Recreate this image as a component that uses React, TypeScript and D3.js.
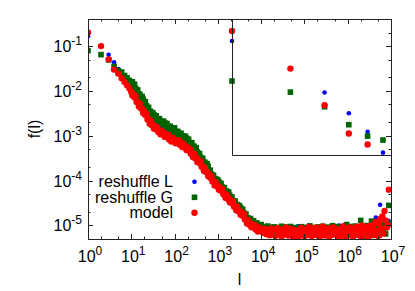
import React from 'react'
import * as d3 from 'd3'

// l values used by reshuffle L (coarser sampling)
const lCoarse = [
  1, 2, 3, 4, 5, 6, 7, 8, 9, 10,
  11, 13, 14, 16, 18, 20, 22, 25, 28, 32, 35, 40, 45, 50, 56, 63, 71, 79, 89, 100,
  112, 126, 141, 158, 178, 200, 224, 251, 282, 316, 355, 398, 447, 501, 562, 631, 708, 794, 891, 1000,
  1122, 1259, 1413, 1585, 1778, 1995, 2239, 2512, 2818, 3162, 3548, 3981, 4467, 5012, 5623, 6310, 7079, 7943, 8913, 10000,
  11220, 12590, 14130, 15850, 17780, 19950, 22390, 25120, 28180, 31620, 35480, 39810, 44670, 50120, 56230, 63100, 70790, 79430, 89130,
  1.0e5, 1.12e5, 1.26e5, 1.41e5, 1.58e5, 1.78e5, 2.0e5, 2.24e5, 2.51e5, 2.82e5, 3.16e5, 3.55e5, 3.98e5, 4.47e5, 5.01e5, 5.62e5, 6.31e5, 7.08e5, 7.94e5, 8.91e5,
  1.0e6, 1.12e6, 1.26e6, 1.41e6, 1.58e6, 1.78e6, 2.0e6, 2.24e6, 2.51e6, 2.82e6, 3.16e6, 3.55e6, 3.98e6, 4.47e6, 5.01e6, 5.62e6, 6.31e6, 7.08e6, 7.94e6, 8.91e6,
]

// l values used by reshuffle G and the model (finer sampling)
const lFine = [
  1, 2, 3, 4, 5, 6, 7, 8, 9, 10,
  10.6, 11.2, 11.9, 12.6, 13.3, 14.1, 15.0, 15.8, 16.8, 17.8, 18.8, 20.0, 21.1, 22.4, 23.7, 25.1, 26.6, 28.2, 29.9, 31.6,
  33.5, 35.5, 37.6, 39.8, 42.2, 44.7, 47.3, 50.1, 53.1, 56.2, 59.6, 63.1, 66.8, 70.8, 75.0, 79.4, 84.1, 89.1, 94.4, 100,
  106, 112, 119, 126, 133, 141, 150, 158, 168, 178, 188, 200, 211, 224, 237, 251, 266, 282, 299, 316,
  335, 355, 376, 398, 422, 447, 473, 501, 531, 562, 596, 631, 668, 708, 750, 794, 841, 891, 944, 1000,
  1059, 1122, 1189, 1259, 1334, 1413, 1496, 1585, 1679, 1778, 1884, 1995, 2113, 2239, 2371, 2512, 2661, 2818, 2985, 3162,
  3350, 3548, 3758, 3981, 4217, 4467, 4732, 5012, 5309, 5623, 5957, 6310, 6683, 7079, 7499, 7943, 8414, 8913, 9441, 10000,
  10590, 11220, 11890, 12590, 13340, 14130, 14960, 15850, 16790, 17780, 18840, 19950, 21130, 22390, 23710, 25120, 26610, 28180, 29850, 31620,
  33500, 35480, 37580, 39810, 42170, 44670, 47320, 50120, 53090, 56230, 59570, 63100, 66830, 70790, 74990, 79430, 84140, 89130, 94410, 1.0e5,
  1.059e5, 1.122e5, 1.189e5, 1.259e5, 1.334e5, 1.413e5, 1.496e5, 1.585e5, 1.679e5, 1.778e5, 1.884e5, 1.995e5, 2.113e5, 2.239e5, 2.371e5, 2.512e5, 2.661e5, 2.818e5, 2.985e5, 3.162e5,
  3.35e5, 3.548e5, 3.758e5, 3.981e5, 4.217e5, 4.467e5, 4.732e5, 5.012e5, 5.309e5, 5.623e5, 5.957e5, 6.31e5, 6.683e5, 7.079e5, 7.499e5, 7.943e5, 8.414e5, 8.913e5, 9.441e5, 1.0e6,
  1.059e6, 1.122e6, 1.189e6, 1.259e6, 1.334e6, 1.413e6, 1.496e6, 1.585e6, 1.679e6, 1.778e6, 1.884e6, 1.995e6, 2.113e6, 2.239e6, 2.371e6, 2.512e6, 2.661e6, 2.818e6, 2.985e6, 3.162e6,
  3.35e6, 3.548e6, 3.758e6, 3.981e6, 4.217e6, 4.467e6, 4.732e6, 5.012e6, 5.309e6, 5.623e6, 5.957e6, 6.31e6, 6.683e6, 7.079e6, 7.499e6, 7.943e6, 8.414e6, 8.913e6,
]

// reshuffle L (blue), on lCoarse
const fReshuffleL: (number | null)[] = [
  1.66e-1, null, 6.38e-2, 4.34e-2, 3.08e-2, 2.09e-2, 1.85e-2, 1.58e-2, 1.39e-2, 1.2e-2,
  1.0e-2, 9.2e-3, 7.0e-3, 6.5e-3, 4.9e-3, 4.5e-3, 3.4e-3, 3.2e-3, 2.45e-3, 2.3e-3,
  1.9e-3, 1.91e-3, 1.6e-3, 1.64e-3, 1.37e-3, 1.39e-3, 1.17e-3, 1.21e-3, 1.03e-3, 1.08e-3,
  8.8e-4, 9.2e-4, 7.9e-4, 8.1e-4, 6.6e-4, 6.7e-4, 5.4e-4, 5.3e-4, 4.3e-4, 4.1e-4,
  3.1e-4, 3.0e-4, 2.33e-4, 2.2e-4, 1.71e-4, 1.63e-4, 1.2e-4, 1.14e-4, 9.0e-5, 8.8e-5,
  7.0e-5, 6.8e-5, 5.4e-5, 5.25e-5, 4.2e-5, 4.0e-5, 3.2e-5, 3.1e-5, 2.45e-5, 2.4e-5,
  1.9e-5, 1.85e-5, 1.43e-5, 1.36e-5, 1.11e-5, 1.14e-5, 9.5e-6, 1.0e-5, 8.6e-6, 9.0e-6,
  7.2e-6, 8.3e-6, 6.6e-6, 7.9e-6, 8.8e-6, 6.9e-6, 7.5e-6, 8.6e-6, 6.3e-6, 7.8e-6,
  8.1e-6, 6.7e-6, 7.4e-6, 8.5e-6, 6.1e-6, 7.7e-6, 9.6e-6, 7.0e-6, 8.2e-6, 6.5e-6,
  7.6e-6, 8.7e-6, 6.8e-6, 7.3e-6, 8.4e-6, 6.2e-6, 7.9e-6, 8.0e-6, 6.6e-6, 7.1e-6,
  8.9e-6, 6.4e-6, 7.7e-6, 8.3e-6, 6.9e-6, 1.0e-5, 7.2e-6, 6.3e-6, 8.6e-6, 7.5e-6,
  6.7e-6, 8.2e-6, 7.0e-6, 6.0e-6, 8.8e-6, 7.4e-6, 5.7e-6, 9.1e-6, 6.5e-6, 8.0e-6,
  6.2e-6, 9.3e-6, 1.5e-5, 7.0e-6, 2.9e-5, 1.1e-5, 8.5e-6, 9.0e-6, 1.25e-5,
]

// reshuffle G (green), on lFine
const fReshuffleG: (number | null)[] = [
  7.9e-2, 6.43e-2, 4.9e-2, 3.51e-2, 2.84e-2, 2.64e-2, 2.2e-2, 1.95e-2, 1.71e-2, 1.51e-2,
  1.6e-2, 1.26e-2, 1.41e-2, 1.14e-2, 9.86e-3, 1.05e-2, 8.46e-3, 8.36e-3, 6.55e-3, 7.53e-3,
  6.55e-3, 5.14e-3, 5.75e-3, 4.63e-3, 4.03e-3, 4.3e-3, 3.5e-3, 3.48e-3, 2.78e-3, 3.24e-3,
  2.92e-3, 2.39e-3, 2.79e-3, 2.35e-3, 2.15e-3, 2.4e-3, 2.04e-3, 2.12e-3, 1.75e-3, 2.1e-3,
  1.93e-3, 1.58e-3, 1.87e-3, 1.59e-3, 1.46e-3, 1.64e-3, 1.4e-3, 1.47e-3, 1.22e-3, 1.5e-3,
  1.26e-3, 1.05e-3, 1.25e-3, 1.08e-3, 1.0e-3, 1.14e-3, 9.6e-4, 9.95e-4, 8.14e-4, 9.73e-4,
  8.83e-4, 7.24e-4, 8.39e-4, 7.0e-4, 6.32e-4, 6.98e-4, 5.77e-4, 5.85e-4, 4.64e-4, 5.41e-4,
  4.36e-4, 3.51e-4, 4.03e-4, 3.33e-4, 2.93e-4, 3.16e-4, 2.58e-4, 2.57e-4, 2.05e-4, 2.39e-4,
  2.1e-4, 1.67e-4, 1.71e-4, 1.39e-4, 1.23e-4, 1.32e-4, 1.09e-4, 1.11e-4, 8.9e-5, 1.05e-4,
  9.4e-5, 7.55e-5, 8.68e-5, 7.18e-5, 6.4e-5, 6.98e-5, 5.77e-5, 5.83e-5, 4.69e-5, 5.55e-5,
  4.7e-5, 3.78e-5, 4.35e-5, 3.6e-5, 3.21e-5, 3.5e-5, 2.89e-5, 2.93e-5, 2.36e-5, 2.78e-5,
  2.48e-5, 2.0e-5, 2.3e-5, 1.9e-5, 1.67e-5, 1.8e-5, 1.47e-5, 1.46e-5, 1.2e-5, 1.43e-5,
  1.31e-5, 1.08e-5, 1.27e-5, 1.07e-5, 1.0e-5, 1.14e-5, 9.75e-6, 1.03e-5, 8.6e-6, 1.05e-5,
  8.9e-6, 7.6e-6, 9.4e-6, 8.2e-6, 7.1e-6, 9.7e-6, 8.0e-6, 7.3e-6, 9.1e-6, 8.5e-6,
  7.0e-6, 9.3e-6, 7.8e-6, 8.7e-6, 6.6e-6, 9.0e-6, 8.1e-6, 7.4e-6, 9.6e-6, 6.9e-6,
  8.4e-6, 7.7e-6, 9.2e-6, 6.5e-6, 8.8e-6, 7.2e-6, 9.5e-6, 8.0e-6, 6.8e-6, 8.6e-6,
  7.5e-6, 9.0e-6, 6.4e-6, 6.7e-6, 8.3e-6, 7.9e-6, 9.4e-6, 7.0e-6, 8.5e-6, 6.3e-6,
  9.1e-6, 7.6e-6, 8.1e-6, 6.9e-6, 9.8e-6, 7.3e-6, 8.7e-6, 6.1e-6, 9.0e-6, 7.8e-6,
  8.4e-6, 6.6e-6, 9.3e-6, 7.1e-6, 8.0e-6, 6.4e-6, 9.6e-6, 7.5e-6, 8.9e-6, 6.8e-6,
  7.7e-6, 9.2e-6, 6.2e-6, 8.6e-6, 7.4e-6, 9.9e-6, 6.7e-6, 8.2e-6, 7.0e-6, 9.4e-6,
  6.5e-6, 6.3e-6, 6.6e-6, 8.8e-6, 7.2e-6, 9.0e-6, 6.0e-6, 8.3e-6, 1.05e-5, 7.6e-6,
  6.4e-6, 9.5e-6, 7.9e-6, 6.1e-6, 8.7e-6, 7.3e-6, 9.7e-6, 6.6e-6, 8.1e-6, 7.0e-6,
  6.2e-6, 1.3e-5, 8.5e-6, 5.8e-6, 9.2e-6, 6.9e-6, 7.8e-6, 1.0e-5, 6.3e-6, 8.4e-6,
  7.1e-6, 1.25e-5, 6.0e-6, 9.0e-6, 6.3e-6, 8.8e-6, 1.1e-5, 7.4e-6, 6.1e-6, 9.6e-6,
  1.2e-5, 7.0e-6, 8.5e-6, 1.0e-5, 6.5e-6, 9.3e-6, 1.15e-5, 2.8e-5,
]

// model (red), on lFine
const fModel: (number | null)[] = [
  2.0e-1, 9.95e-2, 5.04e-2, 2.98e-2, 2.43e-2, 1.91e-2, 1.58e-2, 1.33e-2, 1.14e-2, 9.5e-3,
  7.85e-3, 8.57e-3, 7.08e-3, 7.55e-3, 5.62e-3, 5.69e-3, 4.47e-3, 5.14e-3, 4.04e-3, 4.08e-3,
  3.21e-3, 3.5e-3, 2.89e-3, 3.08e-3, 2.3e-3, 2.33e-3, 1.85e-3, 2.15e-3, 1.71e-3, 1.75e-3,
  1.43e-3, 1.63e-3, 1.4e-3, 1.56e-3, 1.22e-3, 1.3e-3, 1.08e-3, 1.3e-3, 1.08e-3, 1.15e-3,
  9.44e-4, 1.08e-3, 9.4e-4, 1.05e-3, 8.3e-4, 8.9e-4, 7.4e-4, 9.0e-4, 7.55e-4, 8.15e-4,
  6.8e-4, 7.9e-4, 7.0e-4, 7.85e-4, 6.3e-4, 6.8e-4, 5.6e-4, 6.75e-4, 5.55e-4, 5.83e-4,
  4.79e-4, 5.46e-4, 4.67e-4, 5.15e-4, 3.99e-4, 4.19e-4, 3.37e-4, 3.98e-4, 3.17e-4, 3.24e-4,
  2.61e-4, 2.92e-4, 2.48e-4, 2.72e-4, 2.05e-4, 2.1e-4, 1.66e-4, 1.94e-4, 1.55e-4, 1.58e-4,
  1.26e-4, 1.39e-4, 1.16e-4, 1.25e-4, 9.5e-5, 9.75e-5, 7.83e-5, 9.25e-5, 7.46e-5, 7.74e-5,
  6.24e-5, 6.98e-5, 5.92e-5, 6.49e-5, 4.95e-5, 5.14e-5, 4.13e-5, 4.88e-5, 3.93e-5, 4.08e-5,
  3.29e-5, 3.68e-5, 3.12e-5, 3.42e-5, 2.61e-5, 2.71e-5, 2.18e-5, 2.58e-5, 2.07e-5, 2.15e-5,
  1.74e-5, 1.95e-5, 1.65e-5, 1.8e-5, 1.36e-5, 1.39e-5, 1.11e-5, 1.29e-5, 1.05e-5, 1.11e-5,
  9.15e-6, 1.05e-5, 9.1e-6, 1.03e-5, 8.15e-6, 8.8e-6, 7.35e-6, 9.0e-6, 7.55e-6, 8.15e-6,
  7.8e-6, 6.9e-6, 8.4e-6, 7.2e-6, 6.4e-6, 8.0e-6, 7.5e-6, 6.1e-6, 8.6e-6, 7.0e-6,
  6.6e-6, 7.9e-6, 5.8e-6, 7.3e-6, 8.8e-6, 6.3e-6, 7.6e-6, 6.8e-6, 5.6e-6, 8.2e-6,
  7.1e-6, 6.5e-6, 9.0e-6, 7.4e-6, 6.0e-6, 7.7e-6, 8.5e-6, 6.2e-6, 7.0e-6, 5.5e-6,
  8.1e-6, 6.7e-6, 5.9e-6, 5.6e-6, 6.0e-6, 7.8e-6, 8.9e-6, 6.4e-6, 7.2e-6, 5.7e-6,
  8.3e-6, 6.9e-6, 7.5e-6, 9.3e-6, 6.1e-6, 7.9e-6, 5.8e-6, 8.6e-6, 6.6e-6, 7.3e-6,
  9.1e-6, 6.3e-6, 7.7e-6, 5.5e-6, 8.0e-6, 6.8e-6, 9.5e-6, 7.1e-6, 6.0e-6, 8.4e-6,
  6.5e-6, 7.6e-6, 5.7e-6, 8.8e-6, 7.0e-6, 6.2e-6, 9.2e-6, 7.4e-6, 6.7e-6, 8.2e-6,
  5.8e-6, 5.6e-6, 5.9e-6, 8.5e-6, 6.4e-6, 9.7e-6, 7.2e-6, 5.5e-6, 8.1e-6, 6.9e-6,
  7.8e-6, 9.0e-6, 6.1e-6, 7.5e-6, 5.6e-6, 8.7e-6, 6.6e-6, 9.4e-6, 7.0e-6, 6.3e-6,
  8.3e-6, 5.7e-6, 1.0e-5, 7.3e-6, 6.0e-6, 9.1e-6, 6.8e-6, 8.0e-6, 5.5e-6, 9.8e-6,
  7.1e-6, 6.4e-6, 8.9e-6, 1.05e-5, 6.2e-6, 1.2e-5, 7.6e-6, 5.8e-6, 1.1e-5, 1.4e-5,
  8.5e-6, 1.6e-5, 6.6e-6, 2.1e-5, 1.3e-5, 9.0e-6, 1.0e-5, 6.3e-5,
]

const seriesNames = ['reshuffle L', 'reshuffle G', 'model']
const xTickExps = [0, 1, 2, 3, 4, 5, 6, 7]
const yTickExps = [-5, -4, -3, -2, -1]
const minorMults = [2, 5]

const W = 415
const H = 291
const plot = { left: 88, right: 391, top: 19, bottom: 239 }
const inset = { left: 232, right: 391, top: 19, bottom: 155 }

const font = 'Liberation Sans, Arial, Helvetica, sans-serif'
const colors = ['#0000ff', '#006400', '#ff0000']

function Marker({ kind, x, y }: { kind: number; x: number; y: number }) {
  if (kind === 0) return <circle cx={x} cy={y} r={2.3} fill={colors[0]} />
  if (kind === 1) return <rect x={x - 2.8} y={y - 2.8} width={5.6} height={5.6} fill={colors[1]} />
  return <circle cx={x} cy={y} r={3.2} fill={colors[2]} />
}

export default function App() {
  const x = d3.scaleLog().domain([1, 1e7]).range([plot.left, plot.right])
  const y = d3.scaleLog().domain([5e-6, 0.4]).range([plot.bottom, plot.top])

  const xi = d3.scaleLog().domain([1, 6.6]).range([inset.left, inset.right])
  const yi = d3.scaleLog().domain([0.02, 0.25]).range([inset.bottom, inset.top])

  const series = [
    { l: lCoarse, f: fReshuffleL },
    { l: lFine, f: fReshuffleG },
    { l: lFine, f: fModel },
  ]

  const mainPts = series.map((s, si) =>
    s.l.map((l, i) => {
      const f = s.f[i]
      if (f == null || f < 5e-6 || f > 0.4) return null
      return <Marker key={si + '-' + i} kind={si} x={x(l)} y={y(f)} />
    })
  )

  const insetPts = series.map((s, si) =>
    s.l.map((l, i) => {
      const f = s.f[i]
      if (f == null || l > 6.6 || f < 0.02 || f > 0.25) return null
      return <Marker key={'in' + si + '-' + i} kind={si} x={xi(l)} y={yi(f)} />
    })
  )

  // tick marks (major + minor) on all four sides
  const ticks: JSX.Element[] = []
  xTickExps.forEach(e => {
    const v = Math.pow(10, e)
    const px = Math.round(x(v)) + 0.5
    ticks.push(<line key={'xb' + e} x1={px} x2={px} y1={plot.bottom} y2={plot.bottom - 5} />)
    ticks.push(<line key={'xt' + e} x1={px} x2={px} y1={plot.top} y2={plot.top + 5} />)
    if (e < 7) minorMults.forEach(m => {
      const pm = Math.round(x(v * m)) + 0.5
      ticks.push(<line key={'xbm' + e + m} x1={pm} x2={pm} y1={plot.bottom} y2={plot.bottom - 2.5} />)
      ticks.push(<line key={'xtm' + e + m} x1={pm} x2={pm} y1={plot.top} y2={plot.top + 2.5} />)
    })
  })
  const yTickVals = [1e-6, ...yTickExps.map(e => Math.pow(10, e))]
  yTickVals.forEach((v, k) => {
    const py = Math.round(y(v)) + 0.5
    if (v >= 5e-6) {
      ticks.push(<line key={'yl' + k} x1={plot.left} x2={plot.left + 5} y1={py} y2={py} />)
      ticks.push(<line key={'yr' + k} x1={plot.right} x2={plot.right - 5} y1={py} y2={py} />)
    }
    minorMults.forEach(m => {
      const vm = v * m
      if (vm < 5e-6 || vm > 0.4) return
      const pm = Math.round(y(vm)) + 0.5
      ticks.push(<line key={'ylm' + k + m} x1={plot.left} x2={plot.left + 2.5} y1={pm} y2={pm} />)
      ticks.push(<line key={'yrm' + k + m} x1={plot.right} x2={plot.right - 2.5} y1={pm} y2={pm} />)
    })
  })

  const legendRows = [181.7, 197.3, 212.7]

  return (
    <svg width={W} height={H} style={{ position: 'absolute', left: 0, top: 0, background: '#fff' }}
      fontFamily={font}>
      <defs>
        <clipPath id="plotClip">
          <rect x={plot.left} y={plot.top} width={plot.right - plot.left} height={plot.bottom - plot.top} />
        </clipPath>
      </defs>

      <g clipPath="url(#plotClip)">
        {mainPts}
      </g>

      {/* inset */}
      {insetPts}
      <path
        d={`M${inset.left + 0.5},${inset.top} V${inset.bottom + 0.5} H${inset.right}`}
        fill="none" stroke="#222" strokeWidth={1} />

      {/* frame */}
      <rect x={plot.left + 0.5} y={plot.top + 0.5} width={plot.right - plot.left} height={plot.bottom - plot.top}
        fill="none" stroke="#222" strokeWidth={1} />
      <g stroke="#222" strokeWidth={1}>{ticks}</g>

      {/* tick labels */}
      {yTickExps.map(e => (
        <text key={'yl' + e} x={82} y={y(Math.pow(10, e)) + 6} textAnchor="end" fontSize={16} fill="#000">
          10<tspan dy={-7} fontSize={12}>{e}</tspan>
        </text>
      ))}
      {xTickExps.map(e => (
        <text key={'xl' + e} x={x(Math.pow(10, e)) + 2} y={262} textAnchor="middle" fontSize={16} fill="#000">
          10<tspan dy={-7} fontSize={12}>{e}</tspan>
        </text>
      ))}

      {/* axis titles */}
      <text x={(plot.left + plot.right) / 2} y={285} textAnchor="middle" fontSize={16} fill="#000">l</text>
      <text transform={`translate(40,${(plot.top + plot.bottom) / 2}) rotate(-90)`} textAnchor="middle"
        fontSize={16} fill="#000">f(l)</text>

      {/* legend */}
      {seriesNames.map((name, s) => (
        <g key={'lg' + s}>
          <text x={173} y={legendRows[s] + 5.5} textAnchor="end" fontSize={16} fill="#000">{name}</text>
          <Marker kind={s} x={194.5} y={legendRows[s]} />
        </g>
      ))}
    </svg>
  )
}
